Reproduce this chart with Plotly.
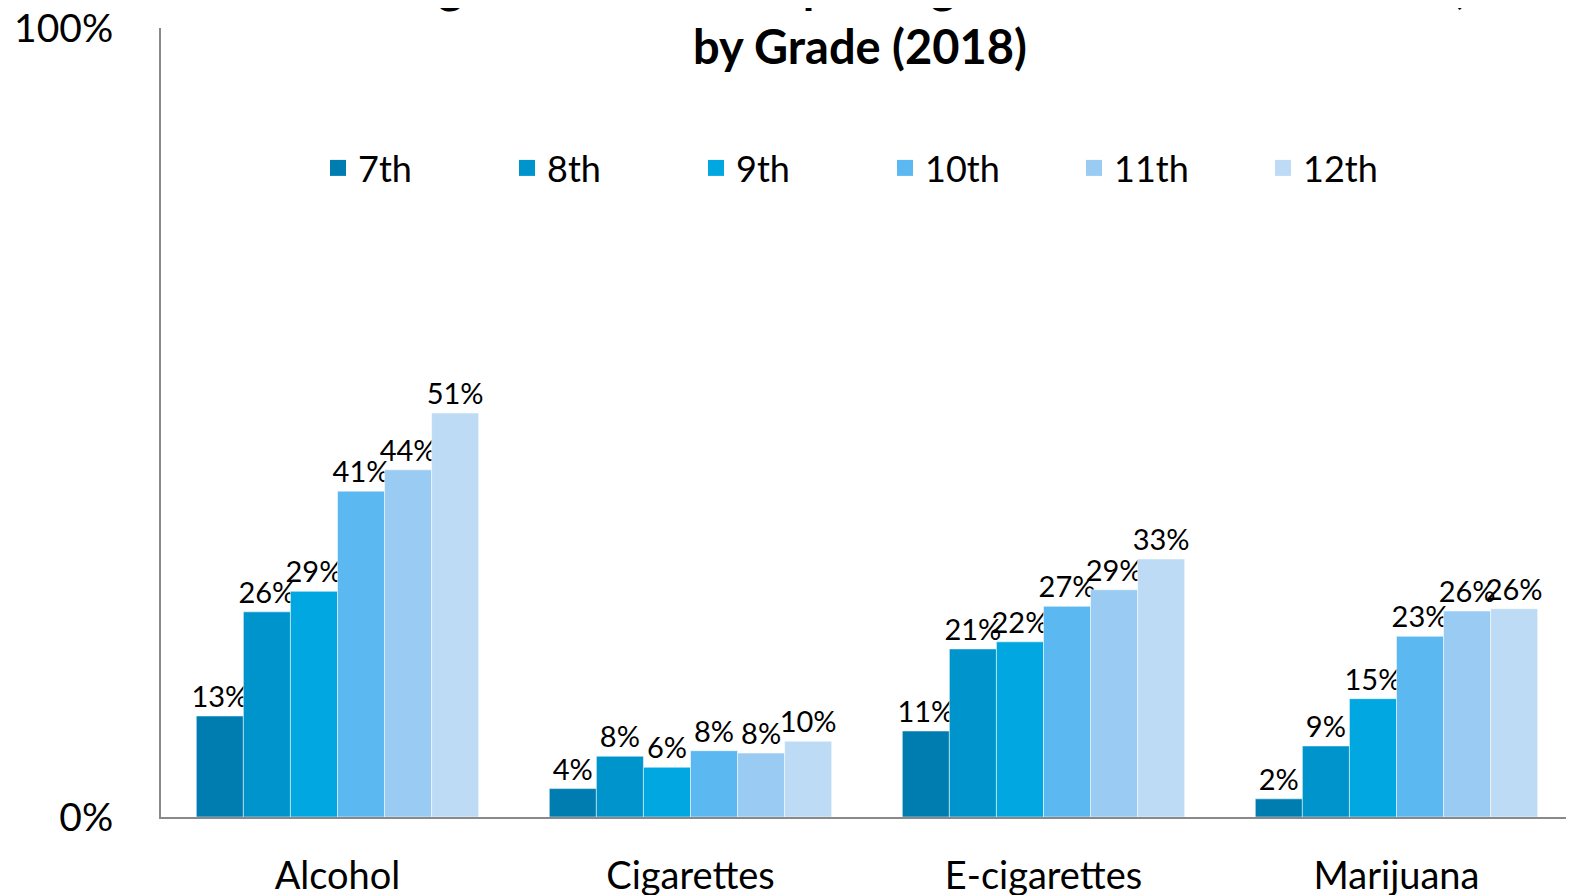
import plotly.graph_objects as go

categories = ["Alcohol", "Cigarettes", "E-cigarettes", "Marijuana"]
grades = ["7th", "8th", "9th", "10th", "11th", "12th"]
values = {
    "7th":  [12.8, 3.6, 10.9, 2.3],
    "8th":  [26.0, 7.7, 21.3, 9.0],
    "9th":  [28.6, 6.3, 22.2, 15.0],
    "10th": [41.3, 8.4, 26.7, 22.9],
    "11th": [44.0, 8.1, 28.8, 26.1],
    "12th": [51.2, 9.6, 32.7, 26.4],
}
colors = ["#007DB0", "#0094CC", "#00A7E1", "#5BB8F0", "#99CBF3", "#BDDBF5"]
y_ticks = [0, 100]
y_tick_labels = ["0%", "100%"]

FONT = "Lato"

fig = go.Figure()
for g, c in zip(grades, colors):
    fig.add_trace(go.Bar(
        name=g, x=categories, y=values[g], showlegend=False,
        marker=dict(color=c, line=dict(color="rgba(255,255,255,0.5)", width=1)),
        texttemplate="%{y:.0f}%", textposition="outside",
        textfont=dict(family=FONT, size=29, color="#000000"),
        constraintext="none", cliponaxis=False,
    ))
# legend entries (square swatches)
for g, c in zip(grades, colors):
    fig.add_trace(go.Scatter(
        name=g, x=[None], y=[None], mode="markers",
        marker=dict(symbol="square", size=22, color=c),
        showlegend=True,
    ))

fig.update_layout(
    width=1574, height=895,
    paper_bgcolor="white", plot_bgcolor="white",
    margin=dict(l=153, r=9, t=20, b=86, autoexpand=False),
    barmode="group", bargap=0.2, bargroupgap=0,
    font=dict(family=FONT, color="#000000"),
    title=dict(
        text="Percentage of Students Reporting Lifetime Substance Use,<br>by Grade (2018)",
        font=dict(family=FONT, size=47, color="#000000", weight="bold"),
        x=852/1574, xanchor="center", xref="container",
        y=1, yanchor="bottom", yref="container",
        pad=dict(b=5),
    ),
    legend=dict(
        orientation="h", x=310/1574, xref="container", y=1-160/895, yref="container",
        yanchor="middle", xanchor="left",
        font=dict(family=FONT, size=36, color="#000000"),
        entrywidth=144, entrywidthmode="pixels",
        itemsizing="trace",
        bgcolor="rgba(0,0,0,0)",
    ),
    showlegend=True,
)
fig.update_xaxes(
    showline=True, linecolor="#898989", linewidth=2,
    tickfont=dict(family=FONT, size=38, color="#000000"),
    ticks="", ticklabelstandoff=24, showgrid=False,
)
fig.update_yaxes(
    range=[0, 100], tickvals=y_ticks, ticktext=y_tick_labels,
    showline=True, linecolor="#898989", linewidth=2,
    showgrid=False, zeroline=False, ticks="",
    tickfont=dict(family=FONT, size=39, color="#000000"),
    ticklabelstandoff=38, ticklabeloverflow="allow",
)

fig.write_html("out.html")
